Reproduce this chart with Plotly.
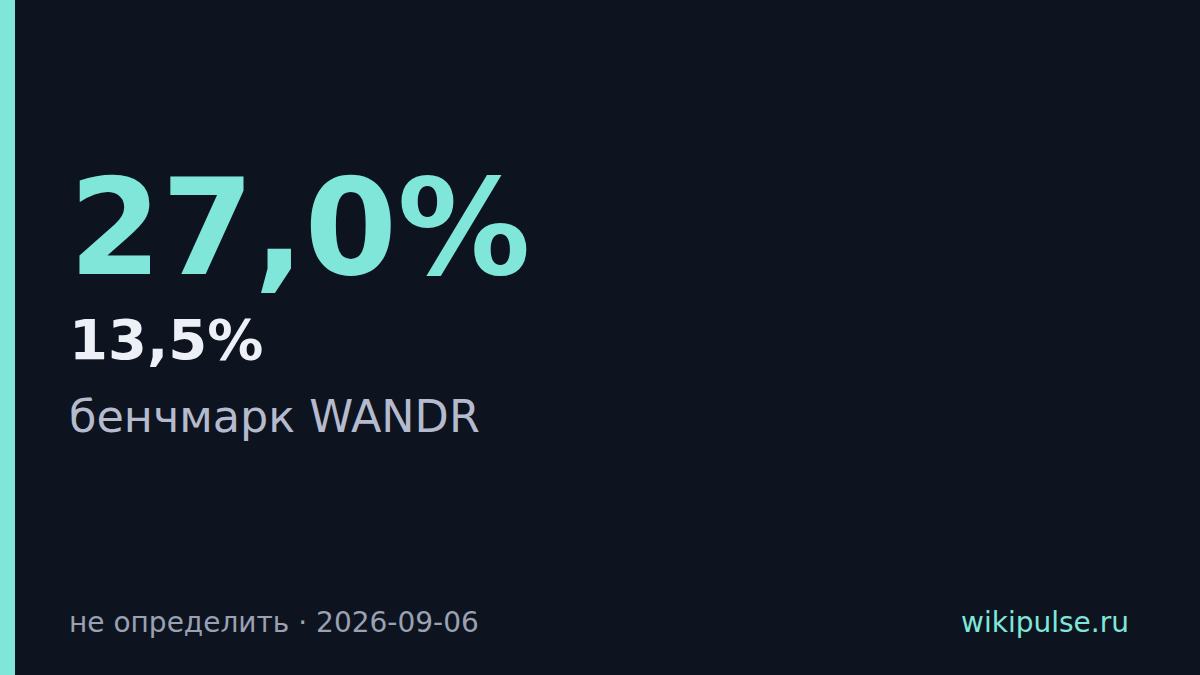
import plotly.graph_objects as go

# card values
main_value = "27,0%"
second_value = "13,5%"
label = "бенчмарк WANDR"
footer_left = "не определить · 2026-09-06"
footer_right = "wikipulse.ru"

W, H = 1200, 675
bg = "#0d1420"
teal = "#7fe6d9"


def py(px):
    # pixel from top -> paper y
    return 1 - px / H


fig = go.Figure()

# accent bar on the left
fig.add_shape(type="rect", xref="paper", yref="paper",
              x0=0, x1=15 / W, y0=0, y1=1,
              fillcolor=teal, line=dict(width=0), layer="below")

texts = [
    # text, x px, y px (middle), size, colour, weight
    (main_value, 67, 228, 133, teal, "bold"),
    (second_value, 67, 340, 56, "#eef0f7", "bold"),
    (label, 67, 416, 44.5, "#b5bbcd", "normal"),
    (footer_left, 67, 622, 28, "#9aa1b2", "normal"),
]
for t, x, y, s, c, w in texts:
    fig.add_annotation(text=t, xref="paper", yref="paper",
                       x=x / W, y=py(y), xanchor="left", yanchor="middle",
                       showarrow=False,
                       font=dict(family="DejaVu Sans", size=s, color=c, weight=w))

fig.add_annotation(text=footer_right, xref="paper", yref="paper",
                   x=1131 / W, y=py(622), xanchor="right", yanchor="middle",
                   showarrow=False,
                   font=dict(family="DejaVu Sans", size=28, color=teal))

fig.update_layout(
    width=W, height=H,
    paper_bgcolor=bg, plot_bgcolor=bg,
    margin=dict(l=0, r=0, t=0, b=0),
    xaxis=dict(visible=False), yaxis=dict(visible=False),
    showlegend=False,
)

fig.write_html("out.html", config={"displayModeBar": False},
               post_script="document.body.style.margin='0';"
                           "document.body.style.background='#0d1420';")
